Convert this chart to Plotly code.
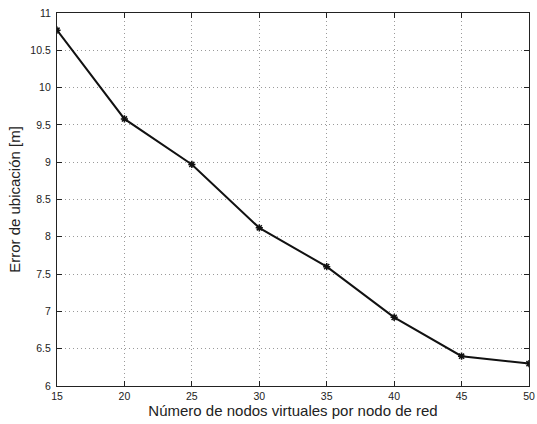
import plotly.graph_objects as go

nodos = [15, 20, 25, 30, 35, 40, 45, 50]
error = [10.77, 9.58, 8.97, 8.12, 7.60, 6.92, 6.40, 6.30]

x_ticks = [15, 20, 25, 30, 35, 40, 45, 50]
y_ticks = [6, 6.5, 7, 7.5, 8, 8.5, 9, 9.5, 10, 10.5, 11]
y_labels = ["6", "6.5", "7", "7.5", "8", "8.5", "9", "9.5", "10", "10.5", "11"]

fig = go.Figure()
fig.add_trace(go.Scatter(
    x=nodos, y=error, mode="lines+markers",
    line=dict(color="#111111", width=2),
    marker=dict(symbol="asterisk-open", size=6, color="#111111",
                line=dict(width=1.5, color="#111111")),
    showlegend=False,
))

axis_common = dict(
    showline=True, linecolor="#222222", linewidth=1.2, mirror="allticks",
    ticks="inside", ticklen=5, tickcolor="#222222",
    showgrid=True, gridcolor="#9a9a9a", griddash="1px,3px", gridwidth=1,
    zeroline=False, tickfont=dict(size=10.5, color="#222222"),
    automargin=False,
)

fig.update_xaxes(range=[15, 50], tickvals=x_ticks,
                 title=dict(text="Número de nodos virtuales por nodo de red",
                            font=dict(size=15, color="#222222"), standoff=4),
                 **axis_common)
fig.update_yaxes(range=[6, 11], tickvals=y_ticks, ticktext=y_labels,
                 ticklabelstandoff=3,
                 title=dict(text="Error de ubicación [m]",
                            font=dict(size=15, color="#222222"), standoff=6),
                 **axis_common)

fig.update_layout(
    width=537, height=424,
    margin=dict(l=57, r=8, t=13, b=38),
    paper_bgcolor="white", plot_bgcolor="white",
    font=dict(family="Liberation Sans, Arial, sans-serif"),
)

fig.write_html("out.html")
